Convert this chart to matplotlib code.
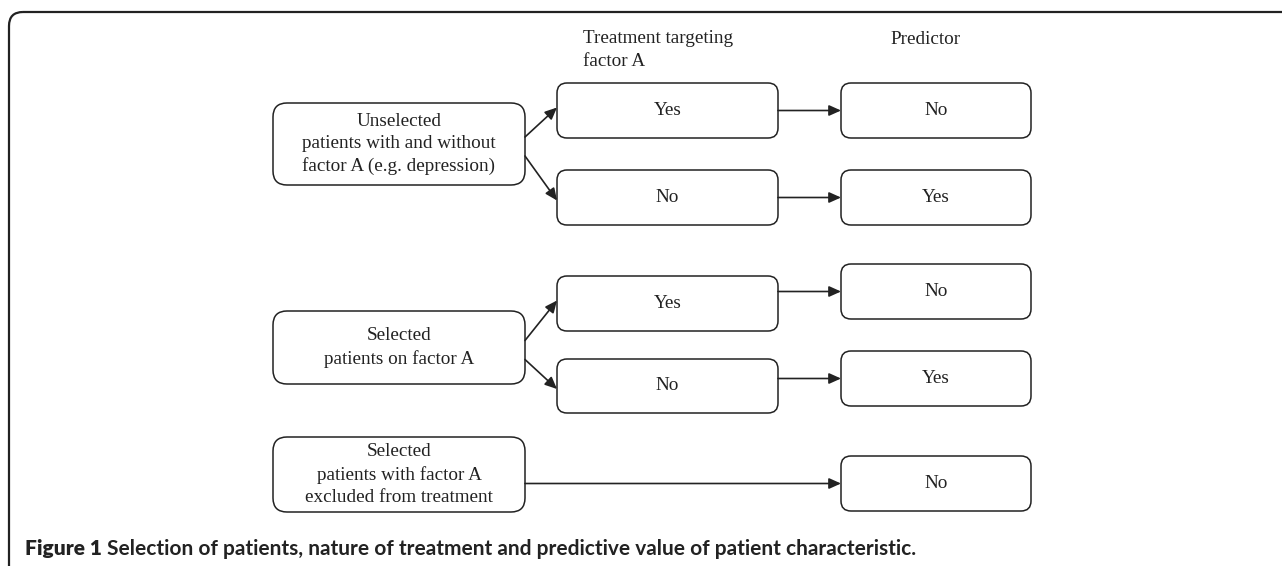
import matplotlib
matplotlib.use("Agg")
import matplotlib.pyplot as plt
from matplotlib.patches import FancyBboxPatch, FancyArrowPatch

# texts of the diagram
group_labels = ["Unselected\npatients with and without\nfactor A (e.g. depression)",
                "Selected\npatients on factor A",
                "Selected\npatients with factor A\nexcluded from treatment"]
treatment_labels = [["Yes", "No"], ["Yes", "No"], []]
predictor_labels = [["No", "Yes"], ["No", "Yes"], ["No"]]
header_treatment = "Treatment targeting\nfactor A"
header_predictor = "Predictor"
caption_head = "Figure 1"
caption_rest = "Selection of patients, nature of treatment and predictive value of patient characteristic."

# layout (pixel units, y downwards)
left_x = (273, 525)
mid_x = (557, 778)
right_x = (841, 1031)
left_y = [(103, 185), (311, 384), (437, 512)]
mid_y = [[(83, 138), (170, 225)], [(276, 331), (359, 413)], []]
right_y = [[(83, 138), (170, 225)], [(264, 319), (351, 406)], [(456, 511)]]

INK = "#222222"
serif = ["Liberation Serif", "DejaVu Serif"]
FS = 13.8
LS = 1.4

fig = plt.figure(figsize=(12.82, 5.66), dpi=100)
ax = fig.add_axes([0, 0, 1, 1])
ax.set_xlim(0, 1282)
ax.set_ylim(566, 0)
ax.axis("off")


def box(x, y, text, r=10):
    p = FancyBboxPatch((x[0], y[0]), x[1] - x[0], y[1] - y[0],
                       boxstyle=f"round,pad=0,rounding_size={r}",
                       fc="white", ec=INK, lw=1.1)
    ax.add_patch(p)
    ax.text((x[0] + x[1]) / 2, (y[0] + y[1]) / 2, text, ha="center", va="center",
            family=serif, fontsize=FS, color=INK, linespacing=LS)


def arrow(p0, p1):
    a = FancyArrowPatch(p0, p1, arrowstyle="-|>,head_length=0.6,head_width=0.27",
                        mutation_scale=12, shrinkA=0, shrinkB=0,
                        color=INK, lw=1.2)
    ax.add_patch(a)


# outer frame, only the top-left part is inside the picture
frame = FancyBboxPatch((9, 12), 1400, 1000, boxstyle="round,pad=0,rounding_size=14",
                       fc="none", ec=INK, lw=1.6)
ax.add_patch(frame)

# headers
ax.text(583, 50, header_treatment, ha="left", va="center", family=serif,
        fontsize=FS, color=INK, linespacing=LS)
ax.text(926, 39, header_predictor, ha="center", va="center", family=serif,
        fontsize=FS, color=INK)

for i, lab in enumerate(group_labels):
    ly = left_y[i]
    lc = (ly[0] + ly[1]) / 2
    box(left_x, ly, lab, r=14)
    if treatment_labels[i]:
        offs = [-7, 12]
        for j, t in enumerate(treatment_labels[i]):
            my = mid_y[i][j]
            box(mid_x, my, t)
            mc = (my[0] + my[1]) / 2
            arrow((left_x[1], lc + offs[j]), (mid_x[0], mc + (-3 if j == 0 else 3)))
            ry = right_y[i][j]
            rc = (ry[0] + ry[1]) / 2
            box(right_x, ry, predictor_labels[i][j])
            arrow((mid_x[1], rc), (right_x[0], rc))
    else:
        ry = right_y[i][0]
        rc = (ry[0] + ry[1]) / 2
        box(right_x, ry, predictor_labels[i][0])
        arrow((left_x[1], rc), (right_x[0], rc))

# caption
cap_font = ["Lato", "DejaVu Sans"]
t1 = ax.text(25, 549, caption_head, ha="left", va="center", family=cap_font,
             fontweight="heavy", fontsize=15, color=INK)
fig.canvas.draw()
bb = t1.get_window_extent()
x_next = ax.transData.inverted().transform((bb.x1, bb.y0))[0] + 5
ax.text(x_next, 549, caption_rest, ha="left", va="center", family=cap_font,
        fontweight="bold", fontsize=15, color=INK)

fig.savefig("out.png", dpi=100)
